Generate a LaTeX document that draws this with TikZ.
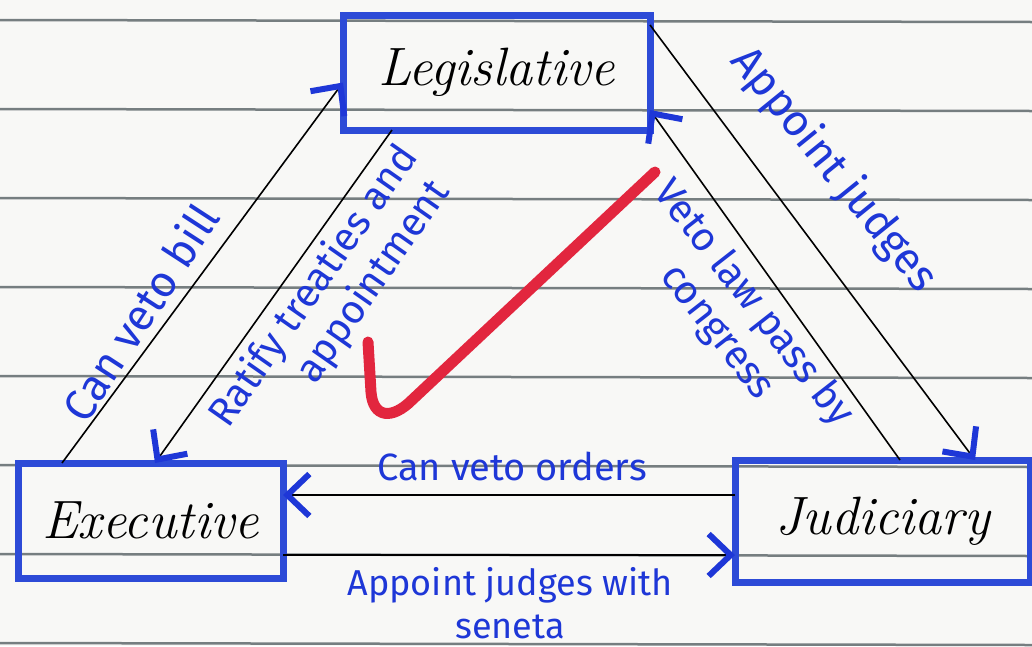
\documentclass[tikz,border=0pt]{standalone}
\usepackage{fontspec}
\setsansfont{Fira Sans}
\usetikzlibrary{arrows.meta,calc}
\definecolor{penblue}{RGB}{30,55,215}
\definecolor{boxblue}{RGB}{45,75,215}
\definecolor{ruleg}{RGB}{118,126,128}
\definecolor{checkred}{RGB}{226,38,62}
\definecolor{paper}{RGB}{248,248,246}
\tikzset{
  branch/.style={draw=boxblue, line width=7pt, outer sep=0pt, inner sep=0pt,
    text=black, font=\itshape\fontsize{54}{60}\selectfont},
  link/.style={draw=black, line width=1.6pt,
    -{Straight Barb[length=22pt,width=42pt,line width=6pt,color=penblue]}},
  lbl/.style={text=penblue, inner sep=0pt, align=center,
    font=\sffamily\fontsize{40}{46}\selectfont},
  paperline/.style={draw=ruleg, line width=2.5pt},
  tick/.style={draw=checkred, line width=11pt, line cap=round, line join=round}
}
\begin{document}
\begin{tikzpicture}[x=1pt,y=-1pt]
\useasboundingbox (0,0) rectangle (1032,646);
\fill[paper] (0,0) rectangle (1032,646);
% ruled paper
\foreach \yy in {20,109,198,287,376,465,554,643}
  \draw[paperline] (0,\yy) -- (1032,\yy+2);
% boxes
\node[branch, minimum width=307pt, minimum height=115pt] (leg) at (496.5,72.5) {Legislative};
\node[branch, minimum width=265pt, minimum height=115pt] (exe) at (150.5,520.5) {Executive};
\node[branch, minimum width=295pt, minimum height=122pt] (jud) at (882.5,521) {Judiciary};
% connectors
\draw[link] ([xshift=44pt]exe.north west) -- ([yshift=-10pt]leg.west);
\draw[link] ([xshift=49pt]leg.south west) -- ([xshift=137pt]exe.north west);
\draw[link] ([yshift=-10pt]leg.north east) -- ([xshift=240pt]jud.north west);
\draw[link] ([xshift=165pt]jud.north west) -- ([yshift=20pt]leg.south east);
\draw[link] ([yshift=-35pt]jud.north west) -- ([yshift=-32pt]exe.north east);
\draw[link] ([yshift=23pt]exe.south east) -- ([yshift=27pt]jud.south west);
% labels
\node[lbl, rotate=57, font=\sffamily\fontsize{44}{50}\selectfont] (l1) at (140,312) {Can veto bill};
\node[lbl, rotate=55] (l2) at (333,300) {Ratify treaties and\\\hspace*{76pt}appointment};
\node[lbl, rotate=-51, font=\sffamily\fontsize{44}{50}\selectfont] (l3) at (834,170) {Appoint judges};
\node[lbl, rotate=-52] (l4) at (735,318) {Veto law pass by\\congress};
\node[lbl, font=\sffamily\fontsize{38}{44}\selectfont] (l5) at (512,466) {Can veto orders};
\node[lbl, font=\sffamily\fontsize{36}{43}\selectfont] (l6) at (510,603) {Appoint judges with\\seneta};
% red check mark
\draw[tick] (368,342) -- (371,392) .. controls (373,418) and (392,420) .. (412,400) -- (655,172);
\end{tikzpicture}
\end{document}
